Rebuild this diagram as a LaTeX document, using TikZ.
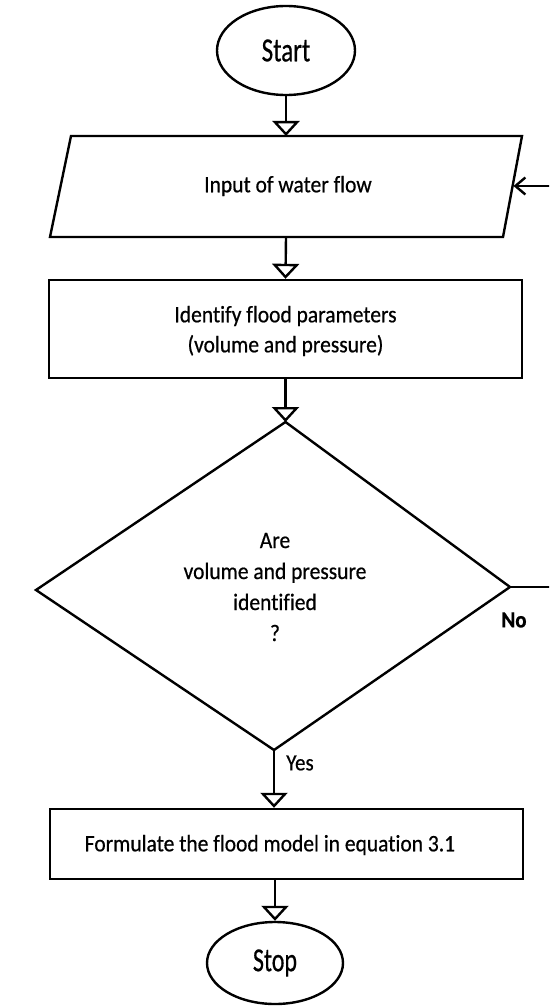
\documentclass[tikz,border=0pt]{standalone}
\usepackage{fontspec}
\setmainfont{Carlito}[Ligatures=NoCommon, FakeBold=0.6]
\usetikzlibrary{arrows.meta,shapes.geometric}
\newcommand\vstretch[2]{\scalebox{1}[#1]{#2}}
\begin{document}
\begin{tikzpicture}[x=1pt,y=-1pt,
  line/.style={line width=2.4pt, black},
  flow/.style={line, -{Triangle[open,width=27pt,length=15pt]}},
  back/.style={line, -{Straight Barb[length=10pt,width=17pt]}},
  term/.style={ellipse, draw, line, inner sep=0pt},
  box/.style={rectangle, draw, line, inner sep=0pt},
  bodytext/.style={font=\fontsize{21.5}{30}\selectfont, align=center, inner sep=0pt},
  lbl/.style={font=\fontsize{21}{25}\selectfont, inner sep=0pt}
]
\useasboundingbox (0,0) rectangle (549,1006);
\clip (0,0) rectangle (549,1006);

% Start
\node[term, minimum width=138pt, minimum height=89pt] (start) at (286,50.5)
  {\fontsize{25}{30}\selectfont\vstretch{1.35}{Start}};

% Input parallelogram
\coordinate (pTL) at (71,136);
\coordinate (pTR) at (522,136);
\coordinate (pBR) at (503,237);
\coordinate (pBL) at (50,237);
\coordinate (ptop) at (286,136);
\coordinate (pbot) at (286,237);
\coordinate (pright) at (513.5,186);
\draw[line] (pTL) -- (pTR) -- (pBR) -- (pBL) -- cycle;
\node[bodytext] (inp) at (288,186) {\vstretch{1.1}{Input of water flow}};

% Identify rectangle
\node[box, minimum width=473pt, minimum height=98pt] (ident) at (285.5,329) {};
\node[bodytext] (identtxt) at (285.5,331) {\vstretch{1.1}{Identify flood parameters}\\\vstretch{1.1}{(volume and pressure)}};

% Decision diamond
\coordinate (dT) at (285.5,422);
\coordinate (dL) at (36,590);
\coordinate (dR) at (510,587);
\coordinate (dB) at (274,750);
\draw[line] (dT) -- (dR) -- (dB) -- (dL) -- cycle;
\node[bodytext, font=\fontsize{21.5}{31}\selectfont] (q) at (275,587)
  {\vstretch{1.1}{Are}\\\vstretch{1.1}{volume and pressure}\\\vstretch{1.1}{identified}\\\vstretch{1.1}{?}};

% Formulate rectangle
\node[box, minimum width=473pt, minimum height=70pt] (form) at (286.5,844) {};
\node[bodytext] (formtxt) at (270,845) {\vstretch{1.1}{Formulate the flood model in equation 3.1}};

% Stop
\node[term, minimum width=136pt, minimum height=82pt] (stop) at (275,963)
  {\fontsize{24}{28}\selectfont\vstretch{1.4}{Stop}};

% Labels
\node[lbl] (yes) at (300,763) {\vstretch{1.1}{Yes}};
\node[lbl, font=\fontsize{21}{25}\selectfont\bfseries] (no) at (514,620) {\vstretch{1.1}{No}};

% Connectors
\draw[flow] (start.south) -- (ptop);
\draw[flow] (pbot) -- (ident.north);
\draw[flow] (ident.south) -- (dT);
\draw[flow] (dB) -- (dB |- form.north);
\draw[flow] (form.south -| stop.north) -- (stop.north);
\draw[back] (dR) -- ++(60,0) |- (pright);
\end{tikzpicture}
\end{document}
